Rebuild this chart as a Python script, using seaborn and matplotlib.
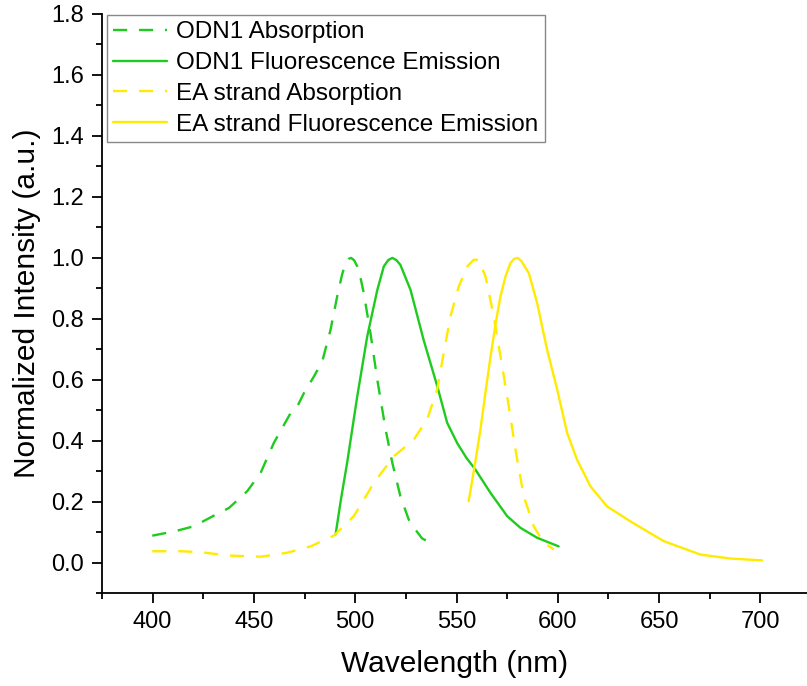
import matplotlib
matplotlib.use("Agg")
import matplotlib.pyplot as plt
import seaborn as sns
import pandas as pd
from matplotlib.ticker import MultipleLocator

# ---- data ----
odn1_abs_wl = [399.8, 411.3, 420.4, 430.3, 437.7, 446.7, 453.3, 459.8, 468.0, 471.4, 474.7,
               479.6, 483.7, 487.8, 491.1, 493.5, 495.2, 496.8, 498.0, 499.5, 501.0, 502.6,
               504.2, 507.5, 510.9, 515.0, 518.3, 522.3, 526.4, 529.7, 533.0, 537.1]
odn1_abs_val = [0.089, 0.104, 0.120, 0.155, 0.180, 0.235, 0.295, 0.393, 0.490, 0.513, 0.557,
                0.611, 0.660, 0.764, 0.874, 0.945, 0.983, 0.997, 1.000, 0.992, 0.972, 0.935,
                0.885, 0.754, 0.600, 0.437, 0.328, 0.218, 0.142, 0.109, 0.080, 0.066]

odn1_em_wl = [490.3, 493.0, 496.0, 501.0, 505.9, 510.9, 514.1, 516.3, 518.3, 520.3, 522.3,
              527.3, 533.8, 540.5, 545.4, 550.3, 554.8, 559.3, 566.8, 575.0, 581.5, 589.8,
              600.4]
odn1_em_val = [0.093, 0.210, 0.328, 0.546, 0.742, 0.895, 0.972, 0.993, 1.000, 0.993, 0.977,
               0.895, 0.730, 0.579, 0.459, 0.393, 0.345, 0.306, 0.229, 0.153, 0.115, 0.082,
               0.054]

ea_abs_wl = [399.8, 413.8, 423.7, 436.9, 453.3, 466.4, 478.0, 489.4, 499.3, 509.2, 519.0,
             528.9, 535.5, 540.5, 544.0, 547.0, 551.1, 555.3, 558.5, 561.0, 564.3, 568.4,
             571.7, 575.0, 579.1, 583.2, 588.1, 593.0, 598.0]
ea_abs_val = [0.038, 0.038, 0.035, 0.024, 0.020, 0.033, 0.054, 0.089, 0.153, 0.262, 0.349,
              0.404, 0.470, 0.570, 0.700, 0.808, 0.906, 0.972, 0.994, 0.994, 0.939, 0.808,
              0.677, 0.546, 0.371, 0.218, 0.120, 0.066, 0.044]

ea_em_wl = [556.0, 559.0, 561.8, 564.3, 566.8, 569.3, 571.7, 574.2, 576.6, 578.4, 580.2,
            582.0, 585.7, 589.8, 594.7, 599.7, 604.6, 609.5, 616.1, 624.3, 635.8, 652.3,
            670.4, 685.2, 700.8]
ea_em_val = [0.202, 0.320, 0.437, 0.560, 0.677, 0.785, 0.874, 0.940, 0.983, 0.997, 1.000,
             0.990, 0.950, 0.852, 0.699, 0.568, 0.426, 0.338, 0.251, 0.185, 0.136, 0.071,
             0.027, 0.014, 0.008]

labels = ["ODN1 Absorption", "ODN1 Fluorescence Emission",
          "EA strand Absorption", "EA strand Fluorescence Emission"]
x_ticks = [400, 450, 500, 550, 600, 650, 700]
y_ticks = [0.0, 0.2, 0.4, 0.6, 0.8, 1.0, 1.2, 1.4, 1.6, 1.8]

GREEN = "#1ecb1e"
YELLOW = "#ffeb00"

sns.set_style("ticks")
plt.rcParams["font.family"] = ["Liberation Sans", "DejaVu Sans"]
plt.rcParams["text.color"] = "black"
plt.rcParams["axes.labelcolor"] = "black"

fig = plt.figure(figsize=(8.07, 6.86), dpi=100)
ax = fig.add_axes([102 / 807, (686 - 593.3) / 686, 1 - 102 / 807, (593.3 - 14) / 686])

series = [
    (odn1_abs_wl, odn1_abs_val, GREEN, (0, (6, 5))),
    (odn1_em_wl, odn1_em_val, GREEN, "-"),
    (ea_abs_wl, ea_abs_val, YELLOW, (0, (6, 5))),
    (ea_em_wl, ea_em_val, YELLOW, "-"),
]
for (wl, val, col, ls), lab in zip(series, labels):
    df = pd.DataFrame({"wl": wl, "val": val})
    sns.lineplot(data=df, x="wl", y="val", ax=ax, color=col, linestyle=ls,
                 linewidth=1.7, label=lab)

ax.set_xlim(375, 723)
ax.set_ylim(-0.1, 1.8)
ax.set_xticks(x_ticks)
ax.set_yticks(y_ticks)
ax.set_yticklabels([f"{t:.1f}" for t in y_ticks])
ax.xaxis.set_minor_locator(MultipleLocator(25))
ax.yaxis.set_minor_locator(MultipleLocator(0.1))
ax.tick_params(axis="both", which="major", direction="out", length=7, width=1.3,
               labelsize=17, pad=6, color="black", labelcolor="black")
ax.tick_params(axis="both", which="minor", direction="out", length=4.5, width=1.3,
               color="black")
for s in ["top", "right"]:
    ax.spines[s].set_visible(False)
for s in ["left", "bottom"]:
    ax.spines[s].set_linewidth(1.3)
    ax.spines[s].set_color("black")

ax.set_xlabel("Wavelength (nm)", fontsize=21.5, labelpad=12, color="black")
ax.set_ylabel("Normalized Intensity (a.u.)", fontsize=21.5, labelpad=7, color="black")

leg = ax.legend(loc="upper left", bbox_to_anchor=(0.0067, 0.998), borderaxespad=0,
                fontsize=17.5, frameon=True, fancybox=False, framealpha=1,
                edgecolor="#888888", handlelength=2.25, handletextpad=0.36,
                labelspacing=0.36, borderpad=0.25, labelcolor="black")
leg.get_frame().set_linewidth(1.0)

fig.savefig("out.png", dpi=100)
